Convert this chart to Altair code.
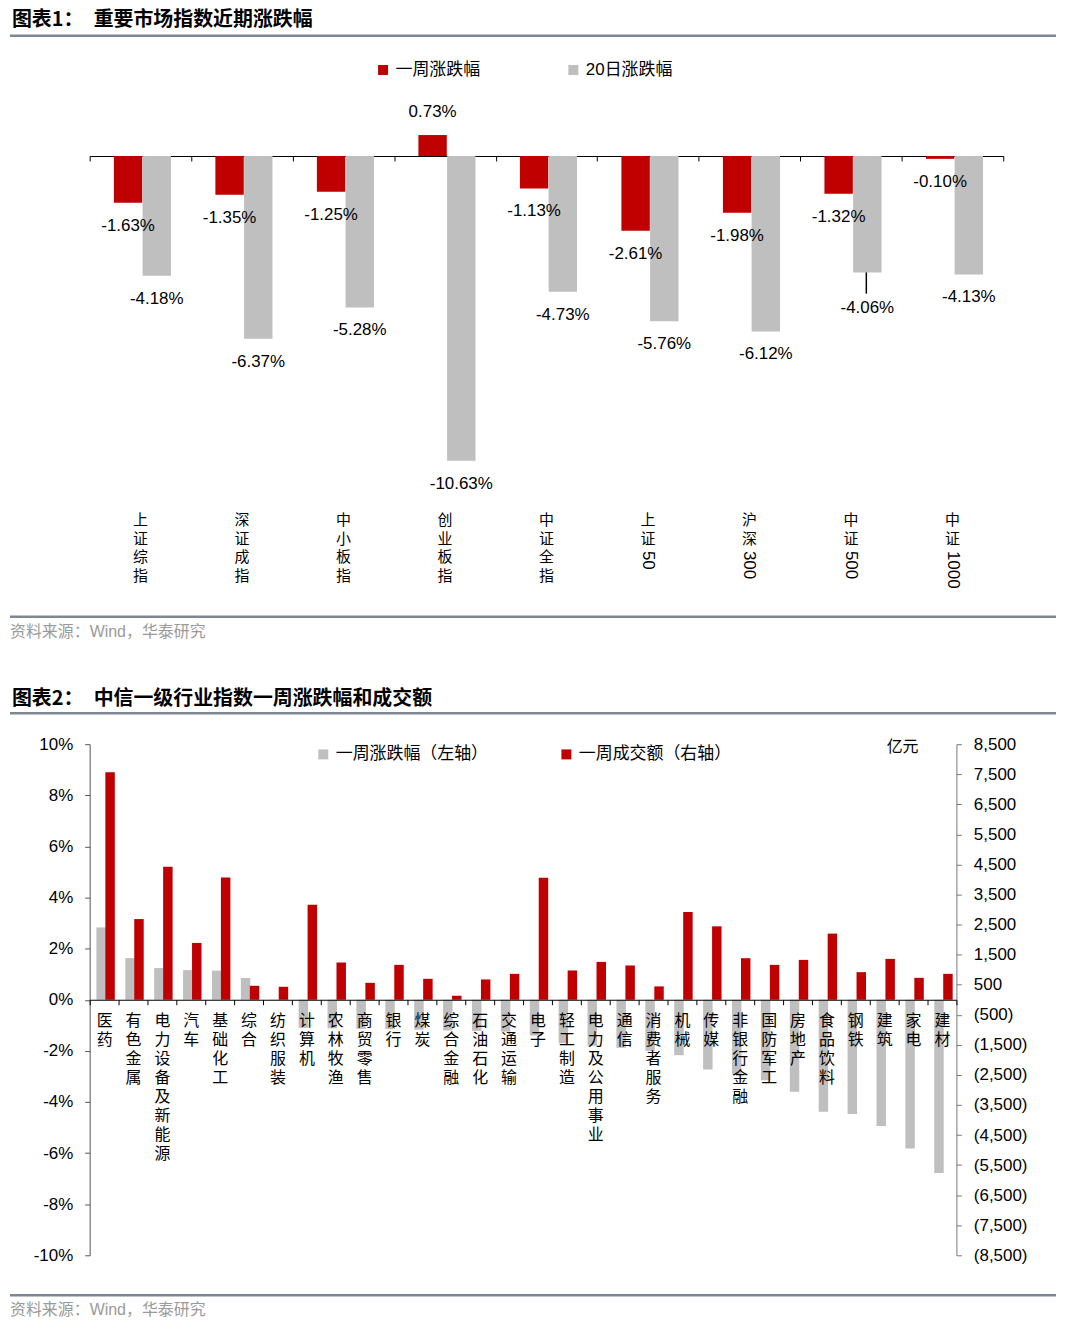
import re
import altair as alt
import pandas as pd

# ---------------- data: chart 1 ----------------
index_names = ["上证综指", "深证成指", "中小板指", "创业板指", "中证全指",
               "上证50", "沪深300", "中证500", "中证1000"]
index_week = [-1.63, -1.35, -1.25, 0.73, -1.13, -2.61, -1.98, -1.32, -0.10]
index_20d = [-4.18, -6.37, -5.28, -10.63, -4.73, -5.76, -6.12, -4.06, -4.13]

# ---------------- data: chart 2 ----------------
industries = ["医药", "有色金属", "电力设备及新能源", "汽车", "基础化工", "综合", "纺织服装",
              "计算机", "农林牧渔", "商贸零售", "银行", "煤炭", "综合金融", "石油石化",
              "交通运输", "电子", "轻工制造", "电力及公用事业", "通信", "消费者服务", "机械",
              "传媒", "非银行金融", "国防军工", "房地产", "食品饮料", "钢铁", "建筑", "家电", "建材"]
industry_week = [2.83, 1.63, 1.24, 1.16, 1.14, 0.85, 0.01,
                 -1.10, -1.12, -1.14, -1.15, -1.17, -1.20, -1.22,
                 -1.25, -1.40, -1.70, -1.80, -1.88, -2.00, -2.17,
                 -2.73, -2.90, -3.15, -3.60, -4.38, -4.47, -4.94, -5.82, -6.78]
industry_amount = [7570, 2684, 4420, 1890, 4066, 464, 431,
                   3161, 1239, 563, 1160, 696, 133, 676,
                   862, 4056, 974, 1259, 1140, 444, 2916,
                   2442, 1382, 1160, 1326, 2200, 918, 1359, 729, 862]

series1 = ["一周涨跌幅", "20日涨跌幅"]
series2 = ["一周涨跌幅（左轴）", "一周成交额（右轴）"]

RED = "#c00000"
GRAY = "#bfbfbf"
CN = "Noto Sans CJK SC"
LAT = "Liberation Sans"
MIX = "Liberation Sans, Noto Sans CJK SC"
RULE = "#7d8793"
SRC = "#9a9a9a"

W1, H1 = 917, 403
W2, H2 = 870, 513
RX1, GX1 = -12.4, 16.4
GX2, RX2 = -3, 6

PCT = "replace(format({f}, '.2f'), '\u2212', '-') + '%'"


def one():
    return alt.Chart(pd.DataFrame({"k": [0]}))


def note(text, x, y, size, color="#000", font=CN, weight="normal", align="left"):
    return one().mark_text(align=align, baseline="middle", font=font, fontSize=size,
                           fontWeight=weight, color=color).encode(
        x=alt.value(x), y=alt.value(y), text=alt.value(text))


def hline(x1, x2, y, color=RULE, width=2.5):
    return one().mark_rule(color=color, strokeWidth=width).encode(
        x=alt.value(x1), x2=alt.value(x2), y=alt.value(y))


# ================= chart 1 =================
df1 = pd.DataFrame({"name": index_names, "week": index_week, "d20": index_20d})
df1["cn"] = [re.sub(r"\d+", "", s) for s in index_names]
df1["num"] = [re.sub(r"\D+", "", s) for s in index_names]

x1 = alt.X("name:N", sort=index_names, scale=alt.Scale(paddingInner=0, paddingOuter=0),
           axis=alt.Axis(title=None, labels=False, tickBand="extent", tickSize=5,
                         tickColor="#000", domainColor="#000", domainWidth=1.2,
                         offset=-(H1 - H1 * 2 / 14), grid=False))
y1scale = alt.Scale(domain=[-12, 2], nice=False, zero=False)
y1axis = alt.Axis(title=None, values=list(range(-12, 3, 2)), labelExpr="datum.value + '%'",
                  grid=False, tickSize=5, tickColor="#404040", domainColor="#404040",
                  labelPadding=11, labelFont=LAT, labelFontSize=17, labelColor="#000")
color1 = alt.Scale(domain=series1, range=[RED, GRAY])
leg1 = alt.Legend(title=None, orient="none", legendX=286, legendY=-37.5, direction="horizontal",
                  symbolType="square", symbolSize=100, symbolStrokeWidth=0, labelFont=MIX,
                  labelFontSize=17, labelColor="#000", columnPadding=85, labelOffset=4, padding=0)

b1 = alt.Chart(df1)
red1 = b1.transform_calculate(series=f"'{series1[0]}'").mark_bar(size=28.5, xOffset=RX1).encode(
    x=x1, y=alt.Y("week:Q", scale=y1scale, axis=y1axis),
    color=alt.Color("series:N", scale=color1, legend=leg1))
gray1 = b1.transform_calculate(series=f"'{series1[1]}'").mark_bar(size=28.5, xOffset=GX1).encode(
    x=x1, y=alt.Y("d20:Q", scale=y1scale, axis=y1axis),
    color=alt.Color("series:N", scale=color1, legend=leg1))

lab_r_neg = b1.transform_filter("datum.week < 0").transform_calculate(
    lab=PCT.format(f="datum.week")).mark_text(
    xOffset=RX1, dy=23, font=LAT, fontSize=17, color="#000").encode(
    x=x1, y=alt.Y("week:Q", scale=y1scale, axis=None), text="lab:N")
lab_r_pos = b1.transform_filter("datum.week >= 0").transform_calculate(
    lab=PCT.format(f="datum.week")).mark_text(
    xOffset=RX1, dy=-23, font=LAT, fontSize=17, color="#000").encode(
    x=x1, y=alt.Y("week:Q", scale=y1scale, axis=None), text="lab:N")
lab_g = b1.transform_filter("datum.name != '中证500'").transform_calculate(
    lab=PCT.format(f="datum.d20")).mark_text(
    xOffset=GX1, dy=23, font=LAT, fontSize=17, color="#000").encode(
    x=x1, y=alt.Y("d20:Q", scale=y1scale, axis=None), text="lab:N")
lab_g_sp = b1.transform_filter("datum.name == '中证500'").transform_calculate(
    lab=PCT.format(f="datum.d20")).mark_text(
    xOffset=GX1, dy=36, font=LAT, fontSize=17, color="#000").encode(
    x=x1, y=alt.Y("d20:Q", scale=y1scale, axis=None), text="lab:N")
leader = b1.transform_filter("datum.name == '中证500'").transform_calculate(
    y2v="datum.d20 - 0.74").mark_rule(xOffset=GX1 - 1, color="#000", strokeWidth=1.5).encode(
    x=x1, y=alt.Y("d20:Q", scale=y1scale, axis=None), y2="y2v:Q")

cat1 = b1.transform_calculate(lines="split(datum.cn, '')").mark_text(
    baseline="top", align="center", font=CN, fontSize=15, lineHeight=18.8, color="#000").encode(
    x=x1, y=alt.value(416), text="lines:N")
num1 = b1.transform_filter("datum.num != ''").mark_text(
    angle=90, align="left", baseline="middle", font=LAT, fontSize=17, color="#000").encode(
    x=x1, y=alt.value(454), text="num:N")

c1 = alt.layer(
    red1, gray1, lab_r_neg, lab_r_pos, lab_g, lab_g_sp, leader, cat1, num1,
    note("图表1：", -78, -79, 20, weight="bold"),
    note("重要市场指数近期涨跌幅", 4, -79, 20, weight="bold"),
    hline(-80, 970, -63),
    hline(-80, 970, 520),
    note("资料来源：Wind，华泰研究", -80, 535, 16, color=SRC, font=MIX),
).properties(width=W1, height=H1)

# ================= chart 2 =================
df2 = pd.DataFrame({"ind": industries, "chg": industry_week, "amt": industry_amount})

x2 = alt.X("ind:N", sort=industries, scale=alt.Scale(paddingInner=0, paddingOuter=0),
           axis=alt.Axis(title=None, labelExpr="split(datum.label, '')", labelAngle=0,
                         labelBaseline="top", labelAlign="center", labelFont=CN, labelFontSize=16,
                         labelLineHeight=19, labelPadding=8, labelOverlap=False, labelBound=False,
                         tickBand="extent", tickSize=5, tickColor="#000", domainColor="#000",
                         domainWidth=1.2, offset=-H2 / 2, labelColor="#000", grid=False,
                         zindex=1))
color2 = alt.Scale(domain=series2, range=[GRAY, RED])
leg2 = alt.Legend(title=None, orient="none", legendX=226, legendY=1.5, direction="horizontal",
                  symbolType="square", symbolSize=100, symbolStrokeWidth=0, labelFont=CN,
                  labelFontSize=17, labelColor="#000", columnPadding=70, labelOffset=4, padding=0)

b2 = alt.Chart(df2)
gray2 = b2.transform_calculate(series=f"'{series2[0]}'").mark_bar(size=9.5, xOffset=GX2).encode(
    x=x2,
    y=alt.Y("chg:Q", scale=alt.Scale(domain=[-10, 10], nice=False, zero=False),
            axis=alt.Axis(title=None, values=list(range(-10, 11, 2)),
                          labelExpr="datum.value + '%'", grid=False, tickSize=5,
                          tickColor="#555", domainColor="#555", labelPadding=12,
                          labelFont=LAT, labelFontSize=17, labelColor="#000")),
    color=alt.Color("series:N", scale=color2, legend=leg2))
red2 = b2.transform_calculate(series=f"'{series2[1]}'").mark_bar(size=9.5, xOffset=RX2).encode(
    x=x2,
    y=alt.Y("amt:Q", scale=alt.Scale(domain=[-8500, 8500], nice=False, zero=False),
            axis=alt.Axis(title=None, orient="right", values=list(range(-8500, 8501, 1000)),
                          labelExpr="datum.value < 0 ? '(' + format(-datum.value, ',') + ')' : format(datum.value, ',')",
                          grid=False, tickSize=5, tickColor="#777", domainColor="#777",
                          labelPadding=12, labelFont=LAT, labelFontSize=17, labelColor="#000")),
    color=alt.Color("series:N", scale=color2, legend=leg2))

c2 = alt.layer(
    gray2, red2,
    note("亿元", 800, 3, 16),
    note("图表2：", -78, -45, 20, weight="bold"),
    note("中信一级行业指数一周涨跌幅和成交额", 4, -45, 20, weight="bold"),
    hline(-80, 970, -31),
    hline(-80, 970, 553),
    note("资料来源：Wind，华泰研究", -80, 568, 16, color=SRC, font=MIX),
).resolve_scale(y="independent").properties(width=W2, height=H2)

chart = alt.vconcat(c1, c2, spacing=245, bounds="flush").resolve_scale(
    color="independent").properties(
    padding={"left": 8, "top": 7.5, "right": 10, "bottom": 10},
    background="white").configure_view(stroke=None)

chart.save("out.html", embed_options={"renderer": "svg", "actions": False})
